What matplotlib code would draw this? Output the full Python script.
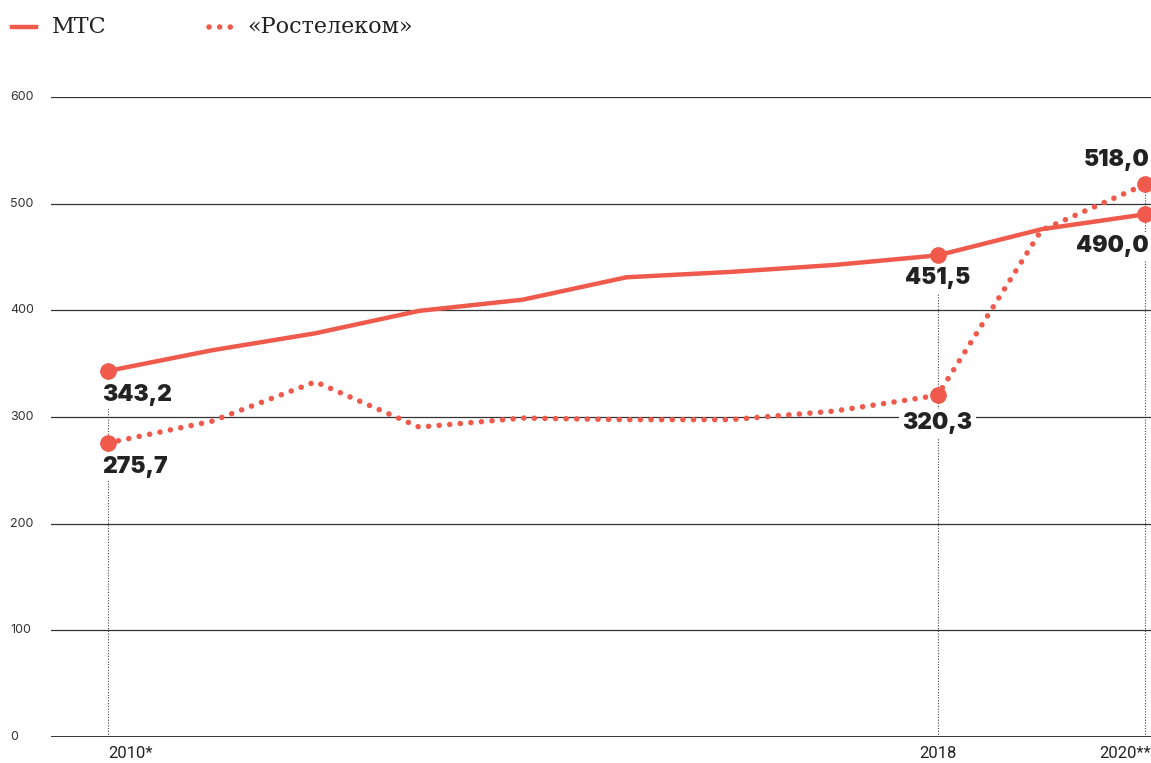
import matplotlib
matplotlib.use("Agg")
import matplotlib.pyplot as plt
from matplotlib.lines import Line2D

years = [2010, 2011, 2012, 2013, 2014, 2015, 2016, 2017, 2018, 2019, 2020]
mts = [343.2, 362.5, 378.5, 399.5, 410.0, 431.0, 436.0, 442.5, 451.5, 476.0, 490.0]
rostelecom = [275.7, 296.0, 333.0, 290.5, 299.0, 297.5, 297.5, 305.5, 320.3, 475.0, 518.0]
series_names = ["МТС", "«Ростелеком»"]
y_ticks = [0, 100, 200, 300, 400, 500, 600]
x_tick_years = [2010, 2018, 2020]
x_tick_labels = ["2010*", "2018", "2020**"]

RED = "#EF5A4C"
DARK = "#222222"
DOT_LW = 4.0
DOT_STYLE = (0, (0.01, 1.9))

W, H = 1151, 763
fig = plt.figure(figsize=(W / 100, H / 100), dpi=100)
ax = fig.add_axes([51 / W, (H - 737) / H, (W - 51) / W, (737 - 97) / H])

px_per_year = (1145 - 108) / 10
ax.set_xlim(2010 - (108 - 51) / px_per_year, 2020 + (W - 1145) / px_per_year)
ax.set_ylim(0, 600)

for s in ax.spines.values():
    s.set_visible(False)
ax.set_xticks([])
ax.set_yticks([])

# gridlines
for t in y_ticks:
    ax.axhline(t, color=DARK if t == 0 else "#333333", lw=2.0 if t == 0 else 0.9, zorder=1)
    ax.text(-41 / (W - 51), t, str(t), transform=ax.get_yaxis_transform(),
            ha="left", va="center", fontsize=9, color="#333333", family="Inter")

# vertical dotted guide lines
for yr in x_tick_years:
    i = years.index(yr)
    top = max(mts[i], rostelecom[i])
    ax.plot([yr, yr], [0, top], color="#444444", lw=0.8, ls=(0, (1, 1.5)), zorder=1.5)

# series
ax.plot(years, mts, color=RED, lw=3.2, zorder=3, solid_joinstyle="round")
ax.plot(years, rostelecom, color=RED, lw=DOT_LW, ls=DOT_STYLE,
        dash_capstyle="round", zorder=3)

for yr in x_tick_years:
    i = years.index(yr)
    ax.plot([yr, yr], [mts[i], rostelecom[i]], ls="none", marker="o", ms=11,
            color=RED, zorder=4, clip_on=False)

# value labels
def lab(x, y, text, dx, dy, ha):
    ax.annotate(text, (x, y), xytext=(dx, dy), textcoords="offset pixels",
                ha=ha, va="center", fontsize=16.5, fontweight="black", family="Inter",
                color=DARK, zorder=5,
                bbox=dict(boxstyle="square,pad=0.15", fc="white", ec="none"))

def fmt(v):
    return f"{v:.1f}".replace(".", ",")

lab(2010, mts[0], fmt(mts[0]), -6, -24, "left")
lab(2010, rostelecom[0], fmt(rostelecom[0]), -6, -24, "left")
lab(2018, mts[8], fmt(mts[8]), 0, -23, "center")
lab(2018, rostelecom[8], fmt(rostelecom[8]), 0, -28, "center")
lab(2020, rostelecom[10], fmt(rostelecom[10]), 5, 24, "right")
lab(2020, mts[10], fmt(mts[10]), 4, -32, "right")

# x tick labels
has = {"2010*": "left", "2018": "center", "2020**": "right"}
offs = {"2010*": 0, "2018": 0, "2020**": 6 / px_per_year}
for yr, t in zip(x_tick_years, x_tick_labels):
    ax.text(yr + offs[t], -16 / ((737 - 97) / 600), t, ha=has[t], va="center",
            fontsize=12, color=DARK, family="Roboto")

# legend
fig.add_artist(Line2D([12 / W, 36 / W], [1 - 27 / H] * 2, transform=fig.transFigure,
                      color=RED, lw=3.2))
fig.add_artist(Line2D([209 / W, 231 / W], [1 - 27 / H] * 2, transform=fig.transFigure,
                      color=RED, lw=DOT_LW, ls=DOT_STYLE, dash_capstyle="round"))
fig.text(52 / W, 1 - 27 / H, series_names[0], ha="left", va="center", fontsize=16,
         family="DejaVu Serif", color=DARK)
fig.text(247 / W, 1 - 27 / H, series_names[1], ha="left", va="center", fontsize=16,
         family="DejaVu Serif", color=DARK)

fig.savefig("out.png", dpi=100)
